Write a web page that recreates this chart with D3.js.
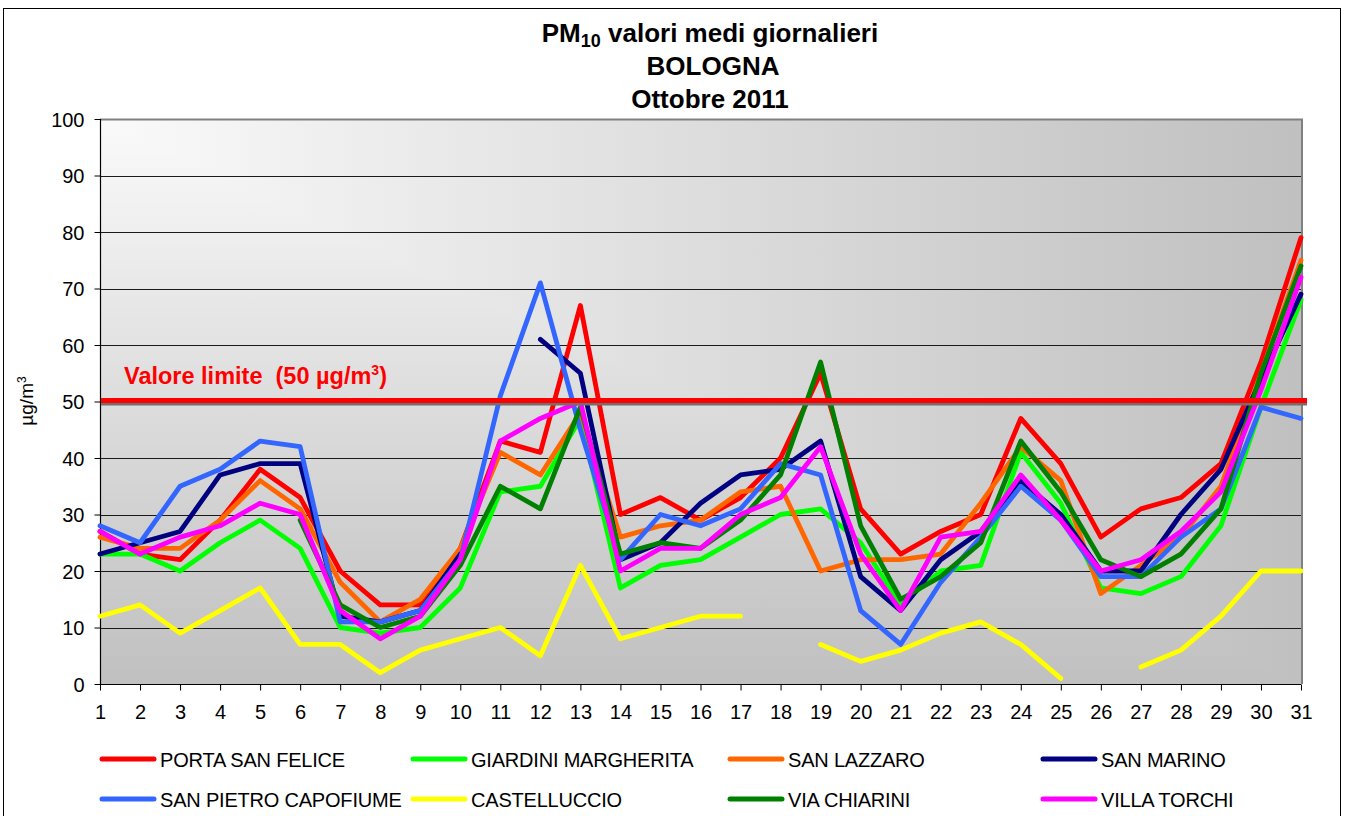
<!DOCTYPE html>
<meta charset="utf-8">
<style>
	body { margin: 0; background: #fff; }
	svg text { font-family: "Liberation Sans", Arial, sans-serif; fill: #000; }
	.tick text { font-size: 20px; }
	.legend text { font-size: 20px; letter-spacing: -0.2px; }
</style>
<svg width="1347" height="816"></svg>
<script src="https://d3js.org/d3.v7.min.js"></script>
<script>

	// days of the month
	var days = d3.range(1, 32);
	var yTicks = [0, 10, 20, 30, 40, 50, 60, 70, 80, 90, 100];
	var limitValue = 50;

	// station names (legend order)
	var stations = ["PORTA SAN FELICE", "GIARDINI MARGHERITA", "SAN LAZZARO", "SAN MARINO",
		"SAN PIETRO CAPOFIUME", "CASTELLUCCIO", "VIA CHIARINI", "VILLA TORCHI"];
	var colors = ["#ff0000", "#00ff00", "#ff6600", "#000080", "#3366ff", "#ffff00", "#008000", "#ff00ff"];

	// daily means, µg/m3 (null = missing)
	var portaSanFelice = [27, 23, 22, 29, 38, 33, 20, 14, 14, 24, 43, 41, 67, 30, 33, 29, 33, 40, 55, 31, 23, 27, 30, 47, 39, 26, 31, 33, 39, 57, 79];
	var giardiniMargherita = [23, 23, 20, 25, 29, 24, 10, 9, 10, 17, 34, 35, 47, 17, 21, 22, 26, 30, 31, 25, 14, 20, 21, 41, 32, 17, 16, 19, 28, 49, 68];
	var sanLazzaro = [26, 24, 24, 29, 36, 31, 18, 11, 15, 24, 41, 37, 48, 26, 28, 29, 34, 35, 20, 22, 22, 23, 32, 42, 36, 16, 21, 26, 35, 55, 75];
	var sanMarino = [23, 25, 27, 37, 39, 39, 12, 11, 13, 23, null, 61, 55, 22, 25, 32, 37, 38, 43, 19, 13, 22, 27, 36, 30, 20, 20, 30, 38, 54, 69];
	var sanPietroCapofiume = [28, 25, 35, 38, 43, 42, 11, 11, 13, 22, 51, 71, 45, 22, 30, 28, 31, 39, 37, 13, 7, 18, 26, 35, 29, 19, 19, 26, 31, 49, 47];
	var castelluccio = [12, 14, 9, 13, 17, 7, 7, 2, 6, 8, 10, 5, 21, 8, 10, 12, 12, null, 7, 4, 6, 9, 11, 7, 1, null, 3, 6, 12, 20, 20];
	var viaChiarini = [null, null, null, null, null, 29, 14, 10, 12, 21, 35, 31, 49, 23, 25, 24, 29, 37, 57, 28, 15, 19, 25, 43, 34, 22, 19, 23, 31, 55, 74];
	var villaTorchi = [27, 23, 26, 28, 32, 30, 13, 8, 12, 22, 43, 47, 50, 20, 24, 24, 30, 33, 42, 23, 13, 26, 27, 37, 29, 20, 22, 27, 34, 52, 72];

	var series = [portaSanFelice, giardiniMargherita, sanLazzaro, sanMarino,
		sanPietroCapofiume, castelluccio, viaChiarini, villaTorchi];

	var plot = {left: 100, right: 1301, top: 119, bottom: 684};

	var svg = d3.select("svg");

	var x = d3.scaleLinear().domain([1, 31]).range([plot.left, plot.right]);
	var y = d3.scaleLinear().domain([0, 100]).range([plot.bottom, plot.top]);

	// outer frame
	svg.append("rect")
		.attr("x", 3.5).attr("y", 8.5)
		.attr("width", 1337).attr("height", 820)
		.attr("fill", "#fff").attr("stroke", "#000").attr("stroke-width", 1);

	// plot background: corner gradient (horizontal + vertical, darken)
	var defs = svg.append("defs");
	var gh = defs.append("linearGradient").attr("id", "gh")
		.attr("x1", 0).attr("y1", 0).attr("x2", 1).attr("y2", 0);
	gh.append("stop").attr("offset", 0).attr("stop-color", "#fafafa");
	gh.append("stop").attr("offset", 1).attr("stop-color", "#c0c0c0");
	var gv = defs.append("linearGradient").attr("id", "gv")
		.attr("x1", 0).attr("y1", 0).attr("x2", 0).attr("y2", 1);
	gv.append("stop").attr("offset", 0).attr("stop-color", "#fafafa");
	gv.append("stop").attr("offset", 1).attr("stop-color", "#c0c0c0");

	var bg = svg.append("g").style("isolation", "isolate");
	bg.append("rect")
		.attr("x", plot.left).attr("y", plot.top)
		.attr("width", plot.right - plot.left).attr("height", plot.bottom - plot.top)
		.attr("fill", "url(#gh)");
	bg.append("rect")
		.attr("x", plot.left).attr("y", plot.top)
		.attr("width", plot.right - plot.left).attr("height", plot.bottom - plot.top)
		.attr("fill", "url(#gv)")
		.style("mix-blend-mode", "darken");

	// gridlines
	svg.append("g")
		.selectAll("line")
		.data(yTicks.slice(1))
		.enter().append("line")
		.attr("x1", plot.left).attr("x2", plot.right)
		.attr("y1", function(d) { return Math.round(y(d)) + 0.5; })
		.attr("y2", function(d) { return Math.round(y(d)) + 0.5; })
		.attr("stroke", "#1a1a1a").attr("stroke-width", 1);

	// plot border (top/right grey)
	svg.append("path")
		.attr("d", "M" + plot.left + "," + (plot.top + 0.5) + "H" + (plot.right + 1) + "V" + plot.bottom)
		.attr("fill", "none").attr("stroke", "#808080").attr("stroke-width", 2);

	// axes
	var yAxis = d3.axisLeft(y).tickValues(yTicks).tickSize(6).tickPadding(10);
	svg.append("g")
		.attr("transform", "translate(" + (plot.left + 0.5) + ",0)")
		.call(yAxis)
		.call(function(g) { g.selectAll("line, path").attr("stroke", "#000"); })
		.call(function(g) { g.select(".domain").attr("d", "M0," + plot.top + "V" + plot.bottom); })
		.selectAll("text").attr("font-size", 20).attr("dy", "0.36em");

	var xAxis = d3.axisBottom(x).tickValues(days).tickSize(6).tickPadding(14).tickFormat(d3.format("d"));
	svg.append("g")
		.attr("transform", "translate(0," + (plot.bottom + 0.5) + ")")
		.call(xAxis)
		.call(function(g) { g.selectAll("line, path").attr("stroke", "#000"); })
		.call(function(g) { g.select(".domain").attr("d", "M" + plot.left + ",0H" + plot.right); })
		.selectAll("text").attr("font-size", 20);

	svg.selectAll(".domain").attr("stroke-width", 1.2);

	// series lines
	var line = d3.line()
		.defined(function(d) { return d != null; })
		.x(function(d, i) { return x(days[i]); })
		.y(function(d) { return y(d); });

	svg.append("g")
		.selectAll("path")
		.data(series)
		.enter().append("path")
		.attr("d", line)
		.attr("fill", "none")
		.attr("stroke", function(d, i) { return colors[i]; })
		.attr("stroke-width", 4.8)
		.attr("stroke-linejoin", "round")
		.attr("stroke-linecap", "round");

	// limit line with shadow
	svg.append("line")
		.attr("x1", plot.left + 1).attr("x2", plot.right + 6)
		.attr("y1", y(limitValue) + 2).attr("y2", y(limitValue) + 2)
		.attr("stroke", "#707070").attr("stroke-width", 4);
	svg.append("line")
		.attr("x1", plot.left + 1).attr("x2", plot.right + 6)
		.attr("y1", y(limitValue) - 1).attr("y2", y(limitValue) - 1)
		.attr("stroke", "#ff0000").attr("stroke-width", 5);

	svg.append("text")
		.attr("x", 124).attr("y", 384)
		.attr("font-size", 23.5).attr("font-weight", "bold")
		.style("fill", "#ff0000")
		.attr("xml:space", "preserve")
		.call(function(t) {
			t.append("tspan").text("Valore limite  (50 µg/m");
			t.append("tspan").attr("font-size", 14).attr("dy", -9).text("3");
			t.append("tspan").attr("dy", 9).text(")");
		});

	// title
	var title = svg.append("g").attr("font-weight", "bold").attr("font-size", 26).attr("text-anchor", "middle");
	title.append("text").attr("x", 710).attr("y", 42)
		.call(function(t) {
			t.append("tspan").text("PM");
			t.append("tspan").attr("font-size", 18).attr("dy", 5).text("10");
			t.append("tspan").attr("dy", -5).text(" valori medi giornalieri");
		});
	title.append("text").attr("x", 713).attr("y", 75).text("BOLOGNA");
	title.append("text").attr("x", 710).attr("y", 108).text("Ottobre 2011");

	// y axis title
	svg.append("text")
		.attr("transform", "translate(33,401) rotate(-90)")
		.attr("text-anchor", "middle")
		.attr("font-size", 19)
		.call(function(t) {
			t.append("tspan").text("µg/m");
			t.append("tspan").attr("font-size", 12).attr("dy", -7).text("3");
		});

	// legend
	var legendX = [100, 411, 728, 1041];
	var legendY = [759, 799];
	var legend = svg.append("g").attr("class", "legend")
		.selectAll("g")
		.data(stations)
		.enter().append("g")
		.attr("transform", function(d, i) {
			return "translate(" + legendX[i % 4] + "," + legendY[Math.floor(i / 4)] + ")";
		});

	legend.append("line")
		.attr("x1", 2).attr("x2", 54)
		.attr("stroke", function(d, i) { return colors[i]; })
		.attr("stroke-width", 5)
		.attr("stroke-linecap", "round");

	legend.append("text")
		.attr("x", 60).attr("y", 8)
		.text(function(d) { return d; });

</script>
